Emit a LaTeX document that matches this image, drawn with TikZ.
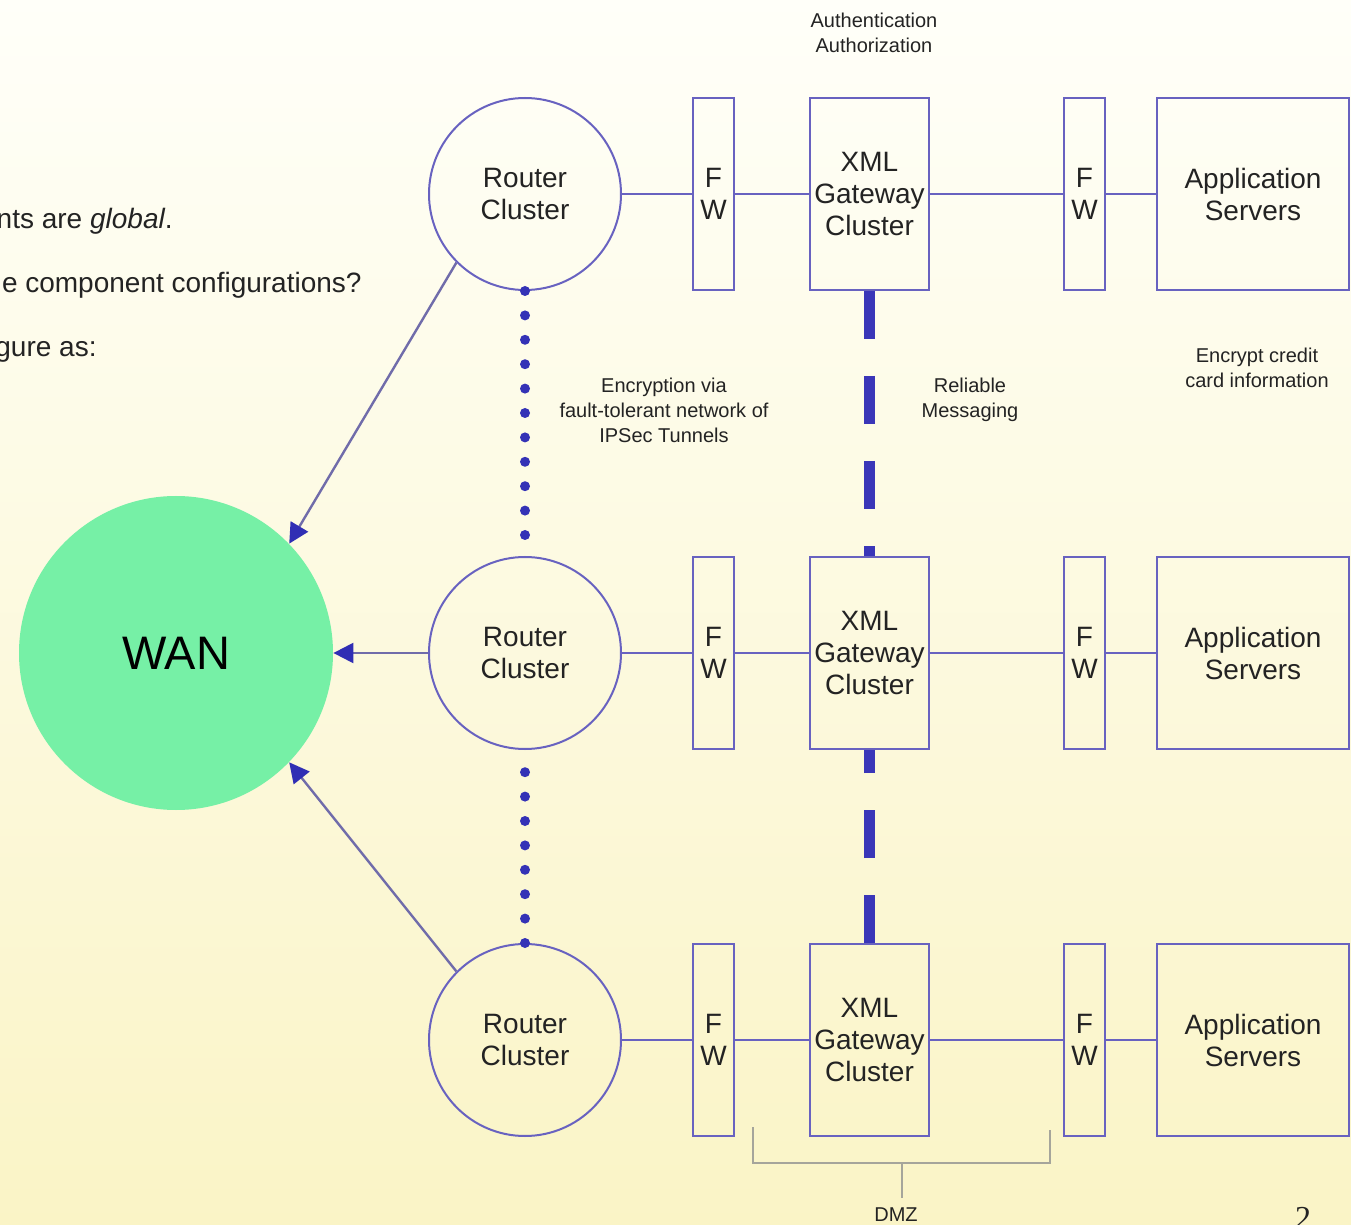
\documentclass[tikz,border=0pt]{standalone}
\usepackage{fontspec}
\setmainfont{Liberation Sans}
\newfontfamily\serifnum{Liberation Serif}
\usetikzlibrary{arrows.meta,calc}
\definecolor{boxc}{RGB}{104,98,192}
\definecolor{arrc}{RGB}{112,108,170}
\definecolor{headc}{RGB}{48,46,180}
\definecolor{dotc}{RGB}{52,50,182}
\definecolor{dashc}{RGB}{58,54,184}
\definecolor{wanc}{RGB}{118,240,166}
\definecolor{txt}{RGB}{35,35,35}
\definecolor{bgtop}{RGB}{255,255,249}
\definecolor{bgbot}{RGB}{250,244,198}
\definecolor{brkc}{RGB}{165,165,155}
\begin{document}
\begin{tikzpicture}[x=0.5pt,y=-0.5pt,
  bigfont/.style={font=\fontsize{14}{16}\selectfont},
  smallfont/.style={font=\fontsize{10}{12.5}\selectfont},
  router/.style={circle,draw=boxc,line width=1pt,minimum size=96pt,inner sep=0pt,align=center,text=txt,bigfont},
  fwbox/.style={rectangle,draw=boxc,line width=1pt,minimum width=20.5pt,minimum height=96pt,inner sep=0pt,align=center,text=txt,bigfont},
  xmlbox/.style={rectangle,draw=boxc,line width=1pt,minimum width=59.5pt,minimum height=96pt,inner sep=0pt,align=center,text=txt,bigfont},
  appbox/.style={rectangle,draw=boxc,line width=1pt,minimum width=96pt,minimum height=96pt,inner sep=0pt,align=center,text=txt,bigfont},
  link/.style={draw=boxc,line width=1pt},
  arr/.style={draw=arrc,line width=1.2pt,-{Triangle[length=10pt,width=10pt,color=headc]}},
  dots/.style={draw=dotc,line width=5pt,line cap=round,dash pattern=on 0pt off 12.2pt},
  msg/.style={draw=dashc,line width=5.5pt,dash pattern=on 24pt off 18.5pt},
  lbl/.style={align=center,text=txt,smallfont,inner sep=0pt},
  brk/.style={draw=brkc,line width=0.6pt}
]
\useasboundingbox (0,0) rectangle (1351,1225);
\shade[top color=bgtop,bottom color=bgbot] (0,0) rectangle (1351,1225);

% left text (clipped by page edge, as in the reference)
\node[anchor=base east,inner sep=0pt,text=txt,font=\fontsize{14}{16}\selectfont] (t1) at (173,229) {nts are \textit{global}.};
\node[anchor=base east,inner sep=0pt,text=txt,font=\fontsize{14}{16}\selectfont] (t2) at (362,293) {e component configurations?};
\node[anchor=base east,inner sep=0pt,text=txt,font=\fontsize{14}{16}\selectfont] (t3) at (97,357) {gure as:};

% WAN
\node[circle,fill=wanc,minimum size=157pt,inner sep=0pt,text=black,font=\fontsize{23.5}{26}\selectfont] (wan) at (176,653) {WAN};

% rows
\foreach \r/\y in {1/194,2/653,3/1040}{
  \node[router] (r\r) at (525,\y) {Router\\Cluster};
  \node[fwbox] (fa\r) at (713.5,\y) {F\\W};
  \node[xmlbox] (x\r) at (869.5,\y) {XML\\Gateway\\Cluster};
  \node[fwbox] (fb\r) at (1084.5,\y) {F\\W};
  \node[appbox] (a\r) at (1253,\y) {Application\\Servers};
  \draw[link] (r\r) -- (fa\r);
  \draw[link] (fa\r) -- (x\r);
  \draw[link] (x\r) -- (fb\r);
  \draw[link] (fb\r) -- (a\r);
}

% arrows to WAN
\draw[arr] (r1.225) -- (wan.44);
\draw[arr] (r2.west) -- (wan.east);
\draw[arr] (r3.135) -- (wan.-44);

% IPSec tunnels (dotted)
\draw[dots] (r1.south) -- (r2.north);
\draw[dots] (r3.north) -- ([yshift=-11pt]r2.south);

% reliable messaging (dashed)
\draw[msg] (x1.south) -- (x2.north);
\draw[msg] (x3.north) -- (x2.south);

% labels
\node[lbl] (auth) at (874,33) {Authentication\\Authorization};
\node[lbl] (enc) at (664,410) {Encryption via\\fault-tolerant network of\\IPSec Tunnels};
\node[lbl] (rel) at (970,400) {Reliable\\Messaging};
\node[lbl] (ecc) at (1257,368) {Encrypt credit\\card information};

% DMZ bracket
\node[lbl,anchor=base] (dmz) at (896,1221) {DMZ};
\coordinate (bl) at (753,1127);
\coordinate (br) at (1050,1130);
\coordinate (bm) at (902,1163);
\draw[brk] (bl) -- (bl |- bm) -- (br |- bm) -- (br);
\draw[brk] (bm) -- (902,1198);

% page number
\node[anchor=base,inner sep=0pt,text=txt,font=\serifnum\fontsize{16}{18}\selectfont] (pg) at (1303,1228) {2};
\end{tikzpicture}
\end{document}
